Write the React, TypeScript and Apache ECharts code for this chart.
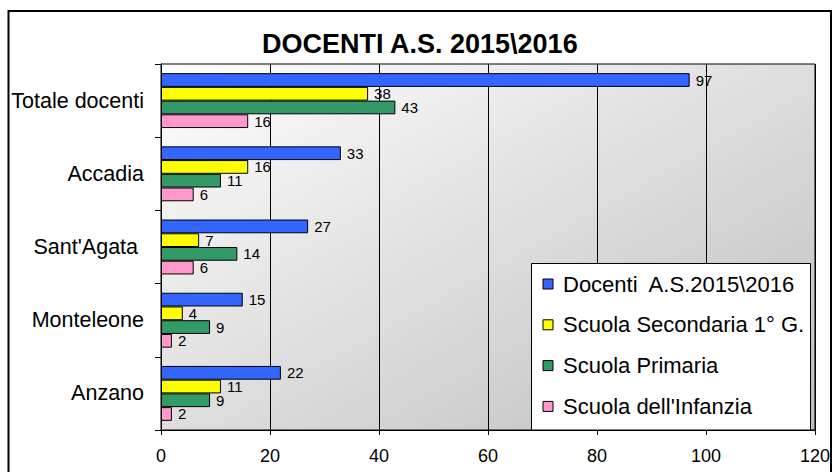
import React, { useEffect, useRef } from "react";
import * as echarts from "echarts";

const FONT = "'Liberation Sans', Arial, Helvetica, sans-serif";

const chartTitle = "DOCENTI A.S. 2015\\2016";
const categories = ["Anzano", "Monteleone", "Sant'Agata ", "Accadia", "Totale docenti"];
const seriesNames = [
  "Docenti  A.S.2015\\2016",
  "Scuola Secondaria 1° G.",
  "Scuola Primaria",
  "Scuola dell'Infanzia",
];
const docenti = [22, 15, 27, 33, 97];
const secondaria = [11, 4, 7, 16, 38];
const primaria = [9, 9, 14, 11, 43];
const infanzia = [2, 2, 6, 6, 16];
const seriesColors = ["#3366FF", "#FFFF00", "#339966", "#FF99CC"];
const xMin = 0;
const xMax = 120;
const xInterval = 20;

export default function App() {
  const ref = useRef<HTMLDivElement>(null);
  useEffect(() => {
    if (!ref.current) return;
    const chart = echarts.init(ref.current, undefined, { renderer: "svg" });
    const values = [docenti, secondaria, primaria, infanzia];
    const option: any = {
      animation: false,
      backgroundColor: "#ffffff",
      title: {
        text: chartTitle,
        left: 262,
        top: 30,
        padding: 0,
        textStyle: { fontFamily: FONT, fontSize: 27, fontWeight: "bold", color: "#000" },
      },
      graphic: [
        {
          type: "rect",
          z: 100,
          shape: { x: 8.5, y: 11, width: 822.5, height: 480 },
          style: { fill: "none", stroke: "#000", lineWidth: 2 },
          silent: true,
        },
        {
          type: "rect",
          z: 3,
          shape: { x: 531.5, y: 263.5, width: 279, height: 166.5 },
          style: { fill: "#ffffff", stroke: "#000", lineWidth: 1 },
          silent: true,
        },
      ],
      legend: {
        orient: "vertical",
        left: 531,
        top: 263,
        padding: [10, 5, 10, 11.5],
        itemGap: 18.8,
        itemWidth: 10,
        itemHeight: 10,
        icon: "rect",
        z: 5,
        backgroundColor: "transparent",
        itemStyle: { borderColor: "#000", borderWidth: 1 },
        textStyle: {
          fontFamily: FONT,
          fontSize: 22,
          lineHeight: 22,
          color: "#000",
          padding: [0, 0, 0, 5],
        },
        data: seriesNames,
      },
      grid: {
        left: 161,
        top: 64,
        width: 654,
        height: 366,
        show: true,
        borderColor: "#000",
        borderWidth: 1,
        backgroundColor: new echarts.graphic.LinearGradient(0, 0, 1, 1, [
          { offset: 0, color: "#ffffff" },
          { offset: 1, color: "#bdbdbd" },
        ]),
        containLabel: false,
      },
      xAxis: {
        type: "value",
        min: xMin,
        max: xMax,
        interval: xInterval,
        axisLine: { show: true, lineStyle: { color: "#000", width: 1 } },
        axisTick: { show: true, length: 5, lineStyle: { color: "#000" } },
        splitLine: { show: true, lineStyle: { color: "#000", width: 1 } },
        axisLabel: { fontFamily: FONT, fontSize: 18, color: "#000", margin: 17 },
      },
      yAxis: {
        type: "category",
        data: categories,
        axisLine: { show: true, lineStyle: { color: "#000", width: 1 } },
        axisTick: { show: true, length: 6, lineStyle: { color: "#000" } },
        axisLabel: { fontFamily: FONT, fontSize: 21.5, color: "#000", margin: 17 },
      },
      series: seriesNames.map((name, i) => ({
        name,
        type: "bar",
        data: values[i],
        barGap: "0%",
        barCategoryGap: "25%",
        itemStyle: { color: seriesColors[i], borderColor: "#000", borderWidth: 1 },
        label: {
          show: true,
          position: "right",
          distance: 6,
          fontFamily: FONT,
          fontSize: 15,
          color: "#000",
        },
      })),
    };
    chart.setOption(option);
    return () => chart.dispose();
  }, []);
  return (
    <div
      ref={ref}
      style={{ position: "fixed", left: 0, top: 0, width: 834, height: 472 }}
    />
  );
}
